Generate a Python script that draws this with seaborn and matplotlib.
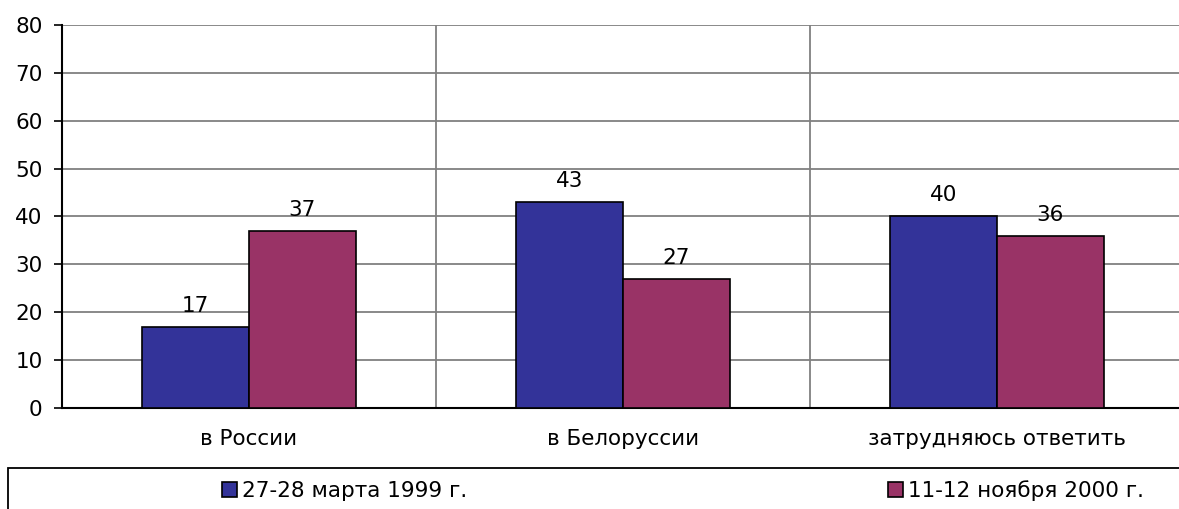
import pandas as pd
import seaborn as sns
import matplotlib
matplotlib.use("Agg")
from matplotlib import pyplot as plt
from matplotlib.patches import Rectangle, Patch

categories = ["в России", "в Белоруссии", "затрудняюсь ответить"]
series_names = ["27-28 марта 1999 г.", "11-12 ноября 2000 г."]
values_1999 = [17, 43, 40]
values_2000 = [37, 27, 36]
colors = ["#333399", "#993366"]

data = pd.DataFrame({
    "cat": categories * 2,
    "series": [series_names[0]] * 3 + [series_names[1]] * 3,
    "value": values_1999 + values_2000,
})

sns.set_style("white")
plt.rcParams["font.family"] = ["DejaVu Sans"]
plt.rcParams["text.color"] = "black"
plt.rcParams["xtick.color"] = "black"
plt.rcParams["ytick.color"] = "black"
FS = 15.5

fig = plt.figure(figsize=(11.79, 5.09), dpi=100)
ax = fig.add_axes([62 / 1179, 1 - 408 / 509, 1122 / 1179, 383 / 509])

sns.barplot(data=data, x="cat", y="value", hue="series", palette=colors,
            saturation=1, width=0.57, edgecolor="black", linewidth=1.2,
            ax=ax, legend=False, zorder=3)

for cont in ax.containers:
    ax.bar_label(cont, padding=8, fontsize=FS, color="black")

ax.set_xlim(-0.5, 2.5)
ax.set_ylim(0, 80)
ax.set_yticks(range(0, 81, 10))
ax.set_xlabel("")
ax.set_ylabel("")

ax.set_xticks([0.5, 1.5], minor=True)
ax.grid(True, axis="y", color="#808080", linewidth=1.3, zorder=0)
ax.grid(True, axis="x", which="minor", color="#808080", linewidth=1.3, zorder=0)
ax.grid(False, axis="x", which="major")

ax.tick_params(axis="x", which="major", length=0, pad=15, labelsize=FS)
ax.tick_params(axis="x", which="minor", length=6, width=1, color="black", direction="out")
ax.tick_params(axis="y", length=6, width=1.2, color="black", direction="out",
               pad=8, labelsize=FS, left=True)

for side in ["top", "right"]:
    ax.spines[side].set_visible(False)
for side in ["left", "bottom"]:
    ax.spines[side].set_color("black")
    ax.spines[side].set_linewidth(1.5)

# legend box
fig.patches.append(Rectangle((8 / 1179, -0.1), 1.2, (509 - 468) / 509 + 0.1,
                             transform=fig.transFigure, fill=False,
                             edgecolor="black", linewidth=1.3))
for name, color, xpos in zip(series_names, colors, [222, 888]):
    handle = Patch(facecolor=color, edgecolor="black", linewidth=1.2)
    fig.legend([handle], [name], frameon=False, loc="center left",
               bbox_to_anchor=(xpos / 1179, 1 - 491 / 509),
               fontsize=FS, handlelength=0.7, handleheight=0.7,
               handletextpad=0.25, borderpad=0, borderaxespad=0)

fig.savefig("out.png", dpi=100)
